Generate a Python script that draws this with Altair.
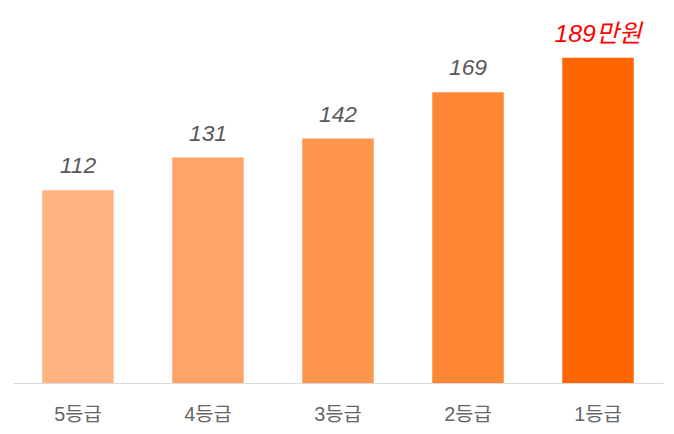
import altair as alt
import pandas as pd

grades = ["5등급", "4등급", "3등급", "2등급", "1등급"]
values = [112, 131, 142, 169, 189]
labels = ["112", "131", "142", "169", "189만원"]
colors = ["#FFB381", "#FFA466", "#FF964C", "#FF8733", "#FF6600"]
label_colors = ["#595959", "#595959", "#595959", "#595959", "#FF0000"]
label_sizes = [23, 23, 23, 23, 25]

df = pd.DataFrame({"grade": grades, "value": values, "label": labels,
                   "color": colors, "lcolor": label_colors, "lsize": label_sizes})

FONT = "Liberation Sans, Arial, Noto Sans CJK KR"

x = alt.X("grade:N", sort=grades,
          scale=alt.Scale(paddingInner=0.45, paddingOuter=0.225),
          axis=alt.Axis(title=None, labelAngle=0, labelFontSize=20, labelColor="#666666",
                        labelFont=FONT, labelPadding=22, ticks=False,
                        domainColor="#D9D9D9", domainWidth=1))
y = alt.Y("value:Q", scale=alt.Scale(domain=[0, 216], nice=False), axis=None)

bars = alt.Chart(df).mark_bar().encode(
    x=x, y=y, color=alt.Color("color:N", scale=None)
)

text = alt.Chart(df).mark_text(dy=-24, fontStyle="italic", font=FONT).encode(
    x=alt.X("grade:N", sort=grades), y=y, text="label:N",
    color=alt.Color("lcolor:N", scale=None),
    size=alt.Size("lsize:Q", scale=None)
)

chart = alt.layer(bars, text).properties(
    width=654, height=374,
    background="white",
    autosize=alt.AutoSizeParams(type="none"),
    padding={"left": 5, "top": 2, "right": 3, "bottom": 40}
).configure_view(stroke=None, strokeWidth=0)

chart.save("out.html", embed_options={"renderer": "svg", "actions": False})
